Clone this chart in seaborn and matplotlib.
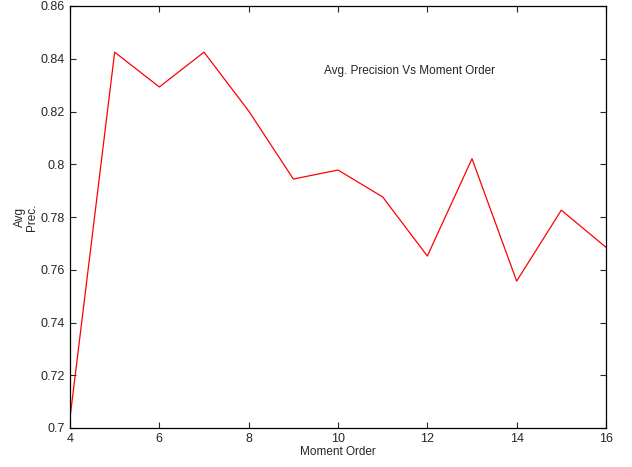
import seaborn as sns
import matplotlib.pyplot as plt
import pandas as pd

moment_order = [4, 5, 6, 7, 8, 9, 10, 11, 12, 13, 14, 15, 16]
avg_prec = [0.7038, 0.8425, 0.8293, 0.8425, 0.8202, 0.7944, 0.7978, 0.7876,
            0.7652, 0.8021, 0.7557, 0.7826, 0.7685]

sns.set_style('ticks')
plt.rcParams['font.family'] = ['Liberation Sans', 'DejaVu Sans']

df = pd.DataFrame({'order': moment_order, 'prec': avg_prec})

fig = plt.figure(figsize=(6.32, 4.67), dpi=100)
ax = fig.add_axes([70 / 632, 39 / 467, 536 / 632, 422 / 467])

sns.lineplot(data=df, x='order', y='prec', ax=ax, color='red', linewidth=0.9)

ax.set_xlim(4, 16)
ax.set_ylim(0.7, 0.86)
ax.set_xticks([4, 6, 8, 10, 12, 14, 16])
ax.set_yticks([0.7, 0.72, 0.74, 0.76, 0.78, 0.8, 0.82, 0.84, 0.86])
ax.set_yticklabels(['0.7', '0.72', '0.74', '0.76', '0.78', '0.8', '0.82', '0.84', '0.86'])
ax.tick_params(direction='in', top=True, right=True, labelsize=9, length=4, width=0.8)
for s in ax.spines.values():
    s.set_visible(True)
    s.set_linewidth(0.9)
    s.set_color('black')

ax.set_xlabel('Moment Order', fontsize=8.5, labelpad=1)
ax.set_ylabel('Avg\nPrec.', fontsize=8.5, labelpad=2, linespacing=0.95)

# title text sits inside the axes, as in the original
ax.text(11.6, 0.8355, 'Avg. Precision Vs Moment Order', fontsize=8.5,
        ha='center', va='center')

fig.savefig('out.png', dpi=100)
